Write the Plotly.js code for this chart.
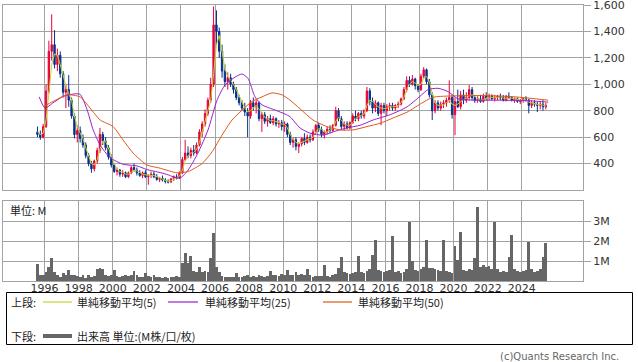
<!DOCTYPE html>
<html><head><meta charset="utf-8">
<script src="https://cdn.plot.ly/plotly-3.0.1.min.js"></script>
<style>html,body{margin:0;padding:0;background:#fff;}#chart{width:638px;height:362px;}</style>
</head><body><div id="chart"></div>
<script>
// bi-monthly candles starting Aug 1995
const startYear = 1995, startMonth = 8;
const open = [640,620,600,
680,950,1250,1300,1150,1220,
1080,940,960,880,760,620,
650,590,540,460,400,360,
420,500,620,570,520,450,
390,340,350,320,330,300,
330,370,350,330,310,330,
300,310,320,300,280,290,
275,265,260,285,300,290,
330,430,480,460,500,480,
540,640,700,780,880,1000,
1450,1400,1250,1100,1020,1050,
1000,960,900,860,820,790,
760,860,830,860,740,770,
720,740,710,740,700,710,
680,700,620,560,580,530,
550,590,560,600,580,640,
690,660,620,640,660,650,
690,800,740,680,700,670,
710,760,740,780,760,800,
950,870,820,860,780,840,
800,830,840,820,840,850,
890,960,1030,1000,1040,990,
960,1060,1110,1020,920,800,
860,820,850,860,880,900,
770,870,830,920,880,900,
960,900,880,890,870,910,
900,910,890,900,910,900,
880,910,900,880,890,870,
880,890,880,840,860,850,
840,850,830];
const high = [680,650,700,
1000,1330,1530,1410,1270,1250,
1100,1000,1070,900,780,690,
680,620,560,480,420,430,
520,670,640,600,540,470,
400,370,360,350,340,340,
380,400,370,350,340,350,
320,340,340,320,300,310,
290,280,290,310,320,340,
450,580,530,520,540,560,
660,720,810,900,1050,1590,
1560,1430,1300,1150,1090,1080,
1020,980,920,880,860,820,
880,900,880,870,790,790,
760,770,760,750,730,730,
720,710,640,600,600,560,
600,630,620,620,660,700,
710,680,650,680,690,700,
830,820,760,720,720,720,
780,800,790,800,810,980,
970,900,880,870,860,860,
850,860,860,850,870,900,
980,1060,1060,1070,1050,1000,
1080,1130,1120,1040,940,880,
880,870,880,900,1030,920,
900,960,950,960,940,995,
980,920,910,920,930,940,
930,925,920,920,930,920,
920,940,910,900,900,890,
900,910,890,880,880,870,
870,880,860];
const low = [600,580,590,
670,930,1180,1120,1100,1050,
900,820,830,740,590,560,
560,520,440,380,330,340,
400,480,540,500,430,370,
330,310,300,300,290,290,
320,340,310,300,290,290,
240,290,290,270,260,265,
250,250,255,270,280,285,
320,420,440,440,460,470,
530,600,680,760,860,980,
1300,1200,1050,980,960,980,
930,880,840,800,760,600,
740,800,780,720,640,700,
680,700,690,680,670,650,
640,600,540,520,500,480,
530,540,550,560,570,620,
640,600,590,620,630,640,
680,720,660,650,660,660,
700,720,720,740,740,790,
840,780,790,760,690,780,
760,800,800,800,820,840,
880,940,980,990,960,940,
950,1040,1000,900,730,780,
800,800,820,830,860,740,
615,820,810,850,860,880,
880,860,860,860,860,880,
880,880,870,880,880,870,
870,890,870,860,860,850,
860,870,780,820,830,790,
810,800,810];
const close = [620,600,680,
950,1250,1300,1150,1220,1080,
940,960,880,760,620,650,
590,540,460,400,360,420,
500,620,570,520,450,390,
340,350,320,330,300,330,
370,350,330,310,330,300,
310,320,300,280,290,275,
265,260,285,300,290,330,
430,480,460,500,480,540,
640,700,780,880,1000,1450,
1400,1250,1100,1020,1050,1000,
960,900,860,820,790,760,
860,830,860,740,770,720,
740,710,740,700,710,680,
700,620,560,580,530,550,
590,560,600,580,640,690,
660,620,640,660,650,690,
800,740,680,700,670,710,
760,740,780,760,800,950,
870,820,860,780,840,800,
830,840,820,840,850,890,
960,1030,1000,1040,990,960,
1060,1110,1020,920,800,860,
820,850,860,880,900,770,
870,830,920,880,900,960,
900,880,890,870,910,900,
910,890,900,910,900,880,
910,900,880,890,870,880,
890,880,840,860,850,840,
850,830,840];
const ma5 = [640,620,630,
730,930,1150,1230,1220,1150,
1060,990,930,880,760,680,
630,590,520,460,400,390,
430,510,570,570,520,460,
400,360,340,335,320,320,
335,350,345,330,320,315,
310,310,310,300,290,285,
275,265,270,285,292,305,
350,420,460,480,485,505,
560,640,710,790,880,1080,
1300,1370,1250,1120,1060,1030,
1000,960,910,860,820,790,
800,820,840,810,790,750,
740,725,725,720,710,700,
695,670,620,585,560,550,
560,570,580,585,600,640,
665,660,640,640,650,665,
720,750,730,700,690,690,
710,740,755,765,775,840,
880,870,850,830,820,815,
820,830,830,832,840,860,
900,960,1000,1020,1010,990,
1000,1050,1060,1020,930,860,
840,840,845,862,880,850,
840,850,870,885,895,915,
920,910,890,880,885,895,
905,900,898,902,905,895,
895,898,895,890,882,880,
882,883,865,858,853,848,
846,840,838];
const volumeM = [0.85,0.3,0.3,
0.45,0.7,1.13,0.45,0.3,0.22,
0.38,0.3,0.55,0.3,0.3,0.25,
0.2,0.3,0.15,0.28,0.2,0.25,
0.6,0.63,0.6,0.3,0.25,0.3,
0.55,0.25,0.22,0.25,0.3,0.25,
0.3,0.5,0.3,0.2,0.22,0.38,
0.25,0.2,0.3,0.18,0.2,0.15,
0.18,0.15,0.2,0.18,0.25,0.2,
0.88,1.4,0.88,1.25,0.5,0.45,
0.68,0.45,0.5,0.45,1.13,2.38,
0.7,0.45,0.25,0.2,0.2,0.2,
0.2,0.38,0.2,0.2,0.25,0.3,
0.2,0.25,0.2,0.3,0.25,0.2,
0.25,0.5,0.3,0.3,0.25,0.35,
0.3,0.55,0.3,0.3,0.45,0.3,
0.35,0.3,0.6,0.3,0.2,0.25,
0.25,0.25,0.8,0.25,0.2,0.3,
0.35,0.63,1.22,0.45,0.4,0.35,
0.4,0.45,1.25,0.45,0.4,0.5,
0.6,1.3,2.05,0.55,0.5,0.45,
0.5,0.55,2.25,0.45,0.5,0.4,
0.45,0.6,2.97,1.0,0.55,0.5,
0.6,0.7,2.05,0.63,0.65,0.6,
0.55,0.5,2.05,0.5,0.45,0.4,
1.75,1.05,2.47,0.55,0.5,0.6,
0.55,1.13,3.72,0.7,0.8,0.7,
0.75,0.6,2.97,0.6,0.45,0.5,
0.45,1.22,2.3,0.6,0.5,0.45,
0.5,0.55,1.97,0.6,0.45,0.5,
0.6,1.22,1.9];
// 25- and 50-period averages read at sample points (decimal year, value)
const ma25Years = [1995.68,1996.03,1996.5,1997.03,1997.61,1998.08,1998.5,1998.85,1999.26,1999.84,2000.6,2001.43,2002.0,2002.78,2003.25,2003.54,2003.95,2004.42,2005.0,2005.59,2006.12,2006.59,2007.18,2007.59,2007.94,2008.35,2008.76,2009.53,2010.11,2010.4,2010.99,2011.58,2012.34,2012.93,2013.75,2014.52,2015.28,2016.28,2017.28,2018.04,2018.5,2019.09,2019.68,2020.26,2021.09,2022.73,2024.49,2025.55];
const ma25Vals = [905,820,860,905,925,925,805,655,540,445,395,382,355,332,315,300,290,350,480,655,880,995,1055,1078,1045,905,845,805,775,755,670,630,615,640,670,690,730,770,830,910,960,970,945,890,880,880,875,865];
const ma50Years = [1995.91,1996.5,1997.32,1998.08,1998.67,1999.26,2000.02,2000.6,2001.19,2002.0,2002.78,2003.78,2004.42,2005.24,2005.83,2006.41,2007.0,2007.59,2008.17,2008.76,2009.35,2009.94,2010.4,2010.99,2011.75,2012.57,2013.33,2014.1,2014.92,2015.69,2016.45,2017.28,2018.04,2018.5,2018.92,2021.68,2023.61,2025.55];
const ma50Vals = [830,870,920,905,820,730,680,580,480,390,365,330,340,400,490,615,730,805,870,905,935,920,880,815,730,680,655,655,680,705,745,790,850,885,905,915,905,880];
const yearTickLabels = ['1996','1998','2000','2002','2004','2006','2008','2010','2012','2014','2016','2018','2020','2022','2024'];
const priceTicks = [400,600,800,1000,1200,1400,1600];
const volTicks = [1,2,3];
const volTickLabels = ['1M','2M','3M'];

function monthDate(i){
  const m = (startMonth-1) + 2*i;
  const y = startYear + Math.floor(m/12);
  const mm = (m%12)+1;
  return y + '-' + String(mm).padStart(2,'0') + '-01';
}
function yearToDate(d){
  const y = Math.floor(d);
  const t = Date.UTC(y,0,1) + (d-y)*365.25*86400000;
  return new Date(t).toISOString().slice(0,10);
}
const dates = close.map((_,i)=>monthDate(i));

const W=638,H=362;
const px=x=>x/W, py=y=>1-y/H;
const grid='#a3a3a3';
const xr=['1993-07-23','2027-08-07'];
const xDom=[px(3),px(583)];
const cjk={family:'Noto Sans CJK JP',size:11,color:'#222'};

const traces = [
  {type:'candlestick', x:dates, open:open, high:high, low:low, close:close, xaxis:'x', yaxis:'y',
   increasing:{line:{color:'#e8003a',width:1}, fillcolor:'#e8003a'},
   decreasing:{line:{color:'#06308c',width:1}, fillcolor:'#06308c'},
   whiskerwidth:0, hoverinfo:'skip'},
  {type:'scatter', mode:'lines', x:dates, y:ma5, xaxis:'x', yaxis:'y', line:{color:'#c5d52c',width:1}, hoverinfo:'skip'},
  {type:'scatter', mode:'lines', x:ma25Years.map(yearToDate), y:ma25Vals, xaxis:'x', yaxis:'y', line:{color:'#9a1fd0',width:1,shape:'spline',smoothing:0.6}, hoverinfo:'skip'},
  {type:'scatter', mode:'lines', x:ma50Years.map(yearToDate), y:ma50Vals, xaxis:'x', yaxis:'y', line:{color:'#e0581c',width:1,shape:'spline',smoothing:0.6}, hoverinfo:'skip'},
  {type:'bar', x:dates, y:volumeM, xaxis:'x2', yaxis:'y2', marker:{color:'#666666',line:{width:0}}, hoverinfo:'skip'}
];

const axisCommon = {showgrid:true, gridcolor:grid, gridwidth:1, showline:true, linecolor:grid, linewidth:1, mirror:true, zeroline:false};
const layout = {
  width:W, height:H, margin:{l:0,r:0,t:0,b:0,pad:0},
  paper_bgcolor:'#fff', plot_bgcolor:'#fff', showlegend:false, bargap:0,
  font:{family:'DejaVu Sans, sans-serif', size:11, color:'#333'},
  xaxis:Object.assign({}, axisCommon, {domain:xDom, type:'date', range:xr, anchor:'y',
    tickvals:yearTickLabels.map(y=>y+'-01-01'), ticktext:yearTickLabels, showticklabels:false, ticks:'',
    rangeslider:{visible:false}}),
  yaxis:Object.assign({}, axisCommon, {domain:[py(190),py(5)], range:[200,1600.5], anchor:'x', side:'right',
    tickvals:priceTicks, ticktext:priceTicks.map(v=>v.toLocaleString('en-US')), ticks:'outside', ticklen:7, tickcolor:grid,
    ticklabeloverflow:'allow', tickfont:{size:11,color:'#333'}}),
  xaxis2:Object.assign({}, axisCommon, {domain:xDom, type:'date', range:xr, anchor:'y2',
    tickvals:yearTickLabels.map(y=>y+'-01-01'), ticktext:yearTickLabels, ticks:'', ticklabelstandoff:-3, tickfont:{size:11,color:'#333'}}),
  yaxis2:Object.assign({}, axisCommon, {domain:[py(281),py(201)], range:[0,4], anchor:'x2', side:'right',
    tickvals:volTicks, ticktext:volTickLabels, ticks:'outside', ticklen:7, tickcolor:grid,
    tickfont:{size:11,color:'#333'}}),
  shapes:[
    {type:'rect', xref:'paper', yref:'paper', x0:px(6.5), x1:px(632.5), y0:py(344.5), y1:py(292.5), line:{color:'#000',width:1}},
    {type:'line', xref:'paper', yref:'paper', x0:px(43), x1:px(72), y0:py(302), y1:py(302), line:{color:'#c5d52c',width:1.2}},
    {type:'line', xref:'paper', yref:'paper', x0:px(168), x1:px(198), y0:py(302), y1:py(302), line:{color:'#9a1fd0',width:1.2}},
    {type:'line', xref:'paper', yref:'paper', x0:px(323), x1:px(352), y0:py(302), y1:py(302), line:{color:'#e0581c',width:1.2}},
    {type:'line', xref:'paper', yref:'paper', x0:px(43), x1:px(72), y0:py(336), y1:py(336), line:{color:'#666',width:4}}
  ],
  annotations:[
    {text:'単位: M', xref:'paper', yref:'paper', x:px(8), y:py(210), xanchor:'left', yanchor:'middle', showarrow:false, font:cjk},
    {text:'上段:', xref:'paper', yref:'paper', x:px(9), y:py(302), xanchor:'left', yanchor:'middle', showarrow:false, font:cjk},
    {text:'単純移動平均(5)', xref:'paper', yref:'paper', x:px(75), y:py(302), xanchor:'left', yanchor:'middle', showarrow:false, font:cjk},
    {text:'単純移動平均(25)', xref:'paper', yref:'paper', x:px(203), y:py(302), xanchor:'left', yanchor:'middle', showarrow:false, font:cjk},
    {text:'単純移動平均(50)', xref:'paper', yref:'paper', x:px(356), y:py(302), xanchor:'left', yanchor:'middle', showarrow:false, font:cjk},
    {text:'下段:', xref:'paper', yref:'paper', x:px(9), y:py(336), xanchor:'left', yanchor:'middle', showarrow:false, font:cjk},
    {text:'出来高 単位:(M株/口/枚)', xref:'paper', yref:'paper', x:px(75), y:py(336), xanchor:'left', yanchor:'middle', showarrow:false, font:cjk},
    {text:'(c)Quants Research Inc.', xref:'paper', yref:'paper', x:px(621), y:py(356), xanchor:'right', yanchor:'middle', showarrow:false, font:{family:'DejaVu Sans',size:10,color:'#666'}}
  ]
};
Plotly.newPlot('chart', traces, layout, {staticPlot:true, displayModeBar:false});
</script></body></html>
